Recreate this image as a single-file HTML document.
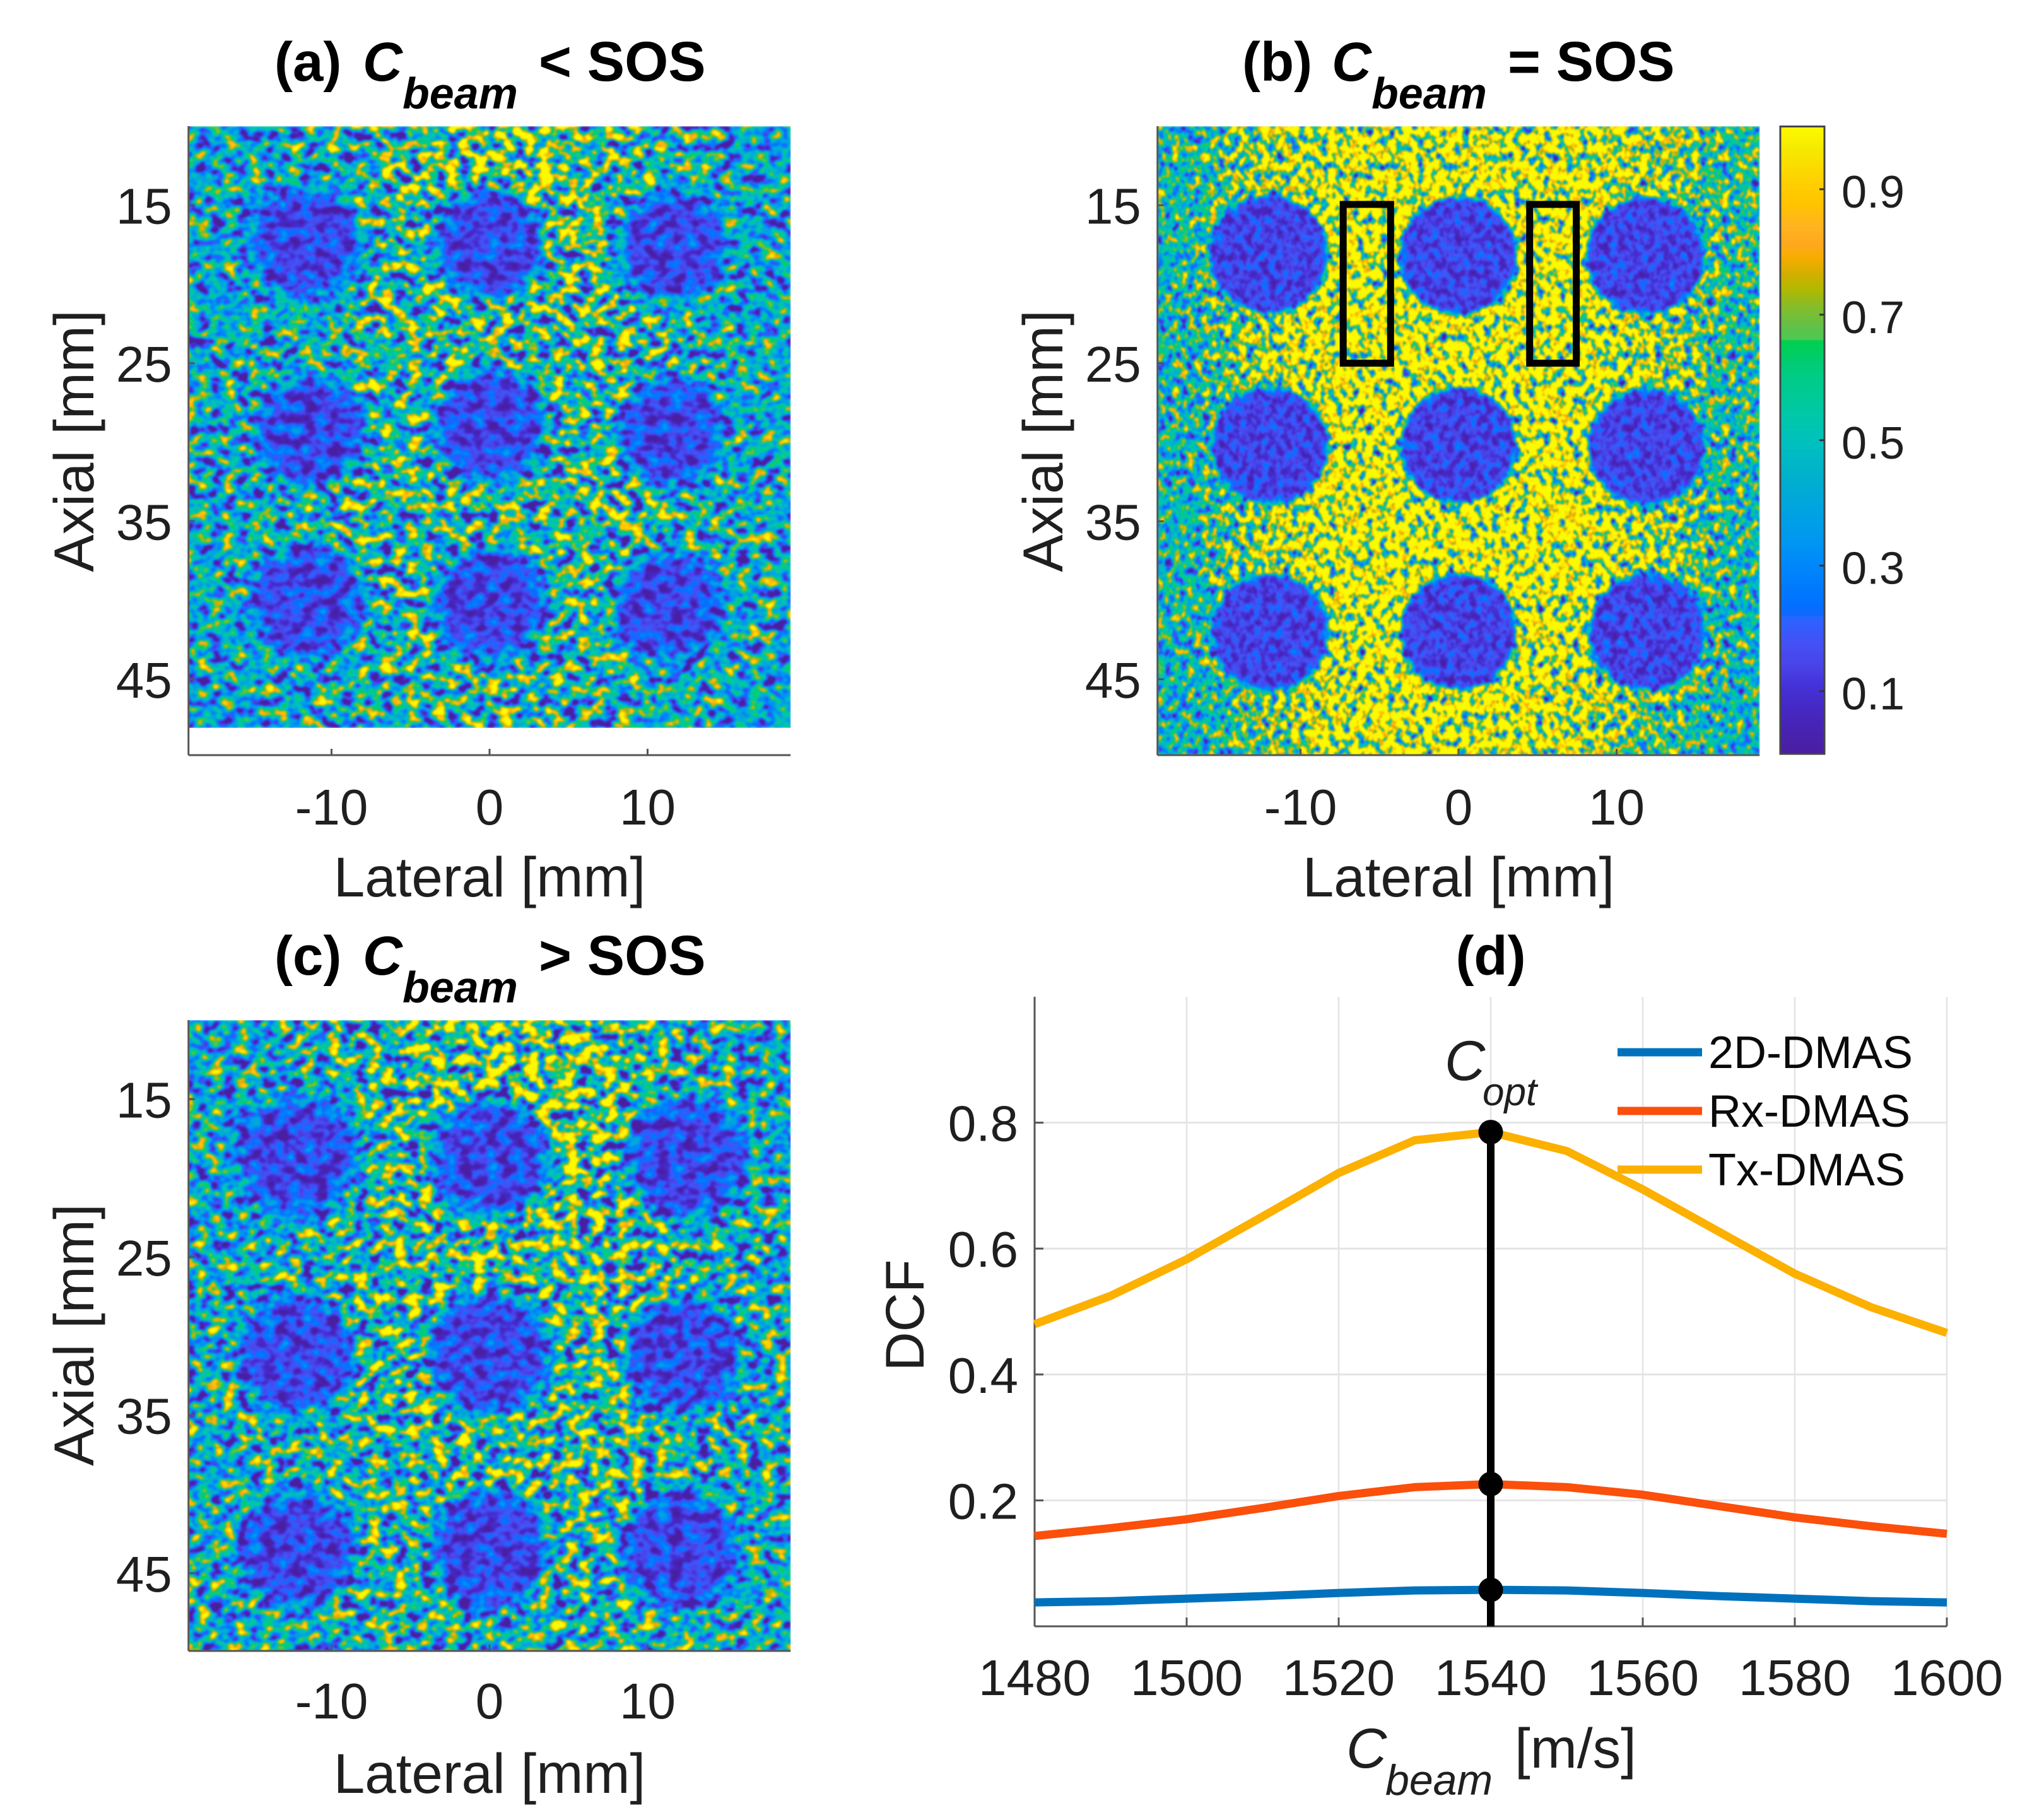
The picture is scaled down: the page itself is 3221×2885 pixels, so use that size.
<!DOCTYPE html>
<html lang="en">
<head>
<meta charset="utf-8">
<title>Beamforming speed of sound coherence maps</title>
<style>
html,body{margin:0;padding:0;background:#fff;}
svg{display:block;font-family:"Liberation Sans",sans-serif;}
.tick{font-size:80px;fill:#1f1f1f;}
.label{font-size:89px;fill:#1f1f1f;}
.title{font-size:87px;font-weight:bold;fill:#000;}
.title-end{font-size:89px;font-weight:bold;fill:#000;}
.sub{font-size:70px;font-weight:bold;font-style:italic;fill:#000;}
.legend{font-size:72px;fill:#0a0a0a;}
</style>
</head>
<body>
<svg id="figure" xmlns="http://www.w3.org/2000/svg" width="3221" height="2885" viewBox="0 0 3221 2885">
  <rect width="3221" height="2885" fill="#fff"/>
  <defs id="defs"></defs>
  <g id="panel-a"></g>
  <g id="panel-b"></g>
  <g id="panel-c"></g>
  <g id="colorbar"></g>
  <g id="panel-d"></g>

  <text><tspan class="title" x="435" y="128">(a)</tspan><tspan class="title" font-style="italic" x="575" y="128">C</tspan><tspan class="sub" x="638" y="172">beam</tspan><tspan class="title-end" x="854" y="128">&lt; SOS</tspan></text>
  <text><tspan class="title" x="1969" y="128">(b)</tspan><tspan class="title" font-style="italic" x="2111" y="128">C</tspan><tspan class="sub" x="2174" y="172">beam</tspan><tspan class="title-end" x="2390" y="128">= SOS</tspan></text>
  <text><tspan class="title" x="435" y="1545">(c)</tspan><tspan class="title" font-style="italic" x="575" y="1545">C</tspan><tspan class="sub" x="638" y="1589">beam</tspan><tspan class="title-end" x="854" y="1545">&gt; SOS</tspan></text>
  <text class="title" x="2363" y="1545" text-anchor="middle">(d)</text>

  <text class="label" x="776" y="1421" text-anchor="middle">Lateral [mm]</text>
  <text class="label" x="2312" y="1421" text-anchor="middle">Lateral [mm]</text>
  <text class="label" x="776" y="2842" text-anchor="middle">Lateral [mm]</text>
  <text class="label" transform="translate(148 699) rotate(-90)" text-anchor="middle">Axial [mm]</text>
  <text class="label" transform="translate(1684 699) rotate(-90)" text-anchor="middle">Axial [mm]</text>
  <text class="label" transform="translate(148 2116) rotate(-90)" text-anchor="middle">Axial [mm]</text>
  <text class="label" style="font-size:86px" transform="translate(1464 2085) rotate(-90)" text-anchor="middle">DCF</text>
  <text><tspan class="label" font-style="italic" x="2134" y="2802">C</tspan><tspan class="label" font-style="italic" style="font-size:68px" x="2196" y="2845">beam</tspan><tspan class="label" x="2401" y="2802">[m/s]</tspan></text>
  <text><tspan class="label" font-style="italic" x="2290" y="1712">C</tspan><tspan class="label" font-style="italic" style="font-size:62px" x="2350" y="1752">opt</tspan></text>
</svg>

<script>
// Colormap: value, then colour.
const cmapValues = [0,0.07,0.11,0.14,0.174,0.214,0.22,0.24,0.30,0.34,0.39,0.44,0.49,0.54,0.608,0.655,0.66,0.675,0.71,0.74,0.765,0.79,0.81,0.84,0.875,0.91,0.96,1];
const cmapColors = ['#4a1ea0','#4628c4','#4433d8','#4a44e8','#4450f5','#2a64ff','#1068ff','#0072ff','#0088fa','#0098f0','#00a4e0','#00b0cc','#00bfc0','#00c8a8','#00cc80','#00cf50','#4ec850','#5cc24c','#84bc2a','#b3b800','#d5ae00','#f7ad00','#ffa81e','#ffb420','#ffc400','#ffd000','#f5e800','#fdfb00'];
const colorbarTicks = [0.1,0.3,0.5,0.7,0.9];

// Axis tick labels.
const lateralTicks = [-10,0,10];
const axialTicks = [15,25,35,45];

// Mean coherence over the speckle, estimated on a coarse grid (rows top to bottom).
const fieldA = [
 [.50,.54,.62,.76,.88,.72,.58,.50],
 [.50,.54,.60,.72,.78,.72,.58,.50],
 [.52,.56,.64,.68,.68,.68,.60,.52],
 [.54,.58,.64,.66,.66,.66,.62,.54],
 [.54,.58,.64,.66,.66,.66,.62,.54],
 [.54,.58,.64,.64,.64,.66,.62,.54],
 [.54,.56,.62,.64,.64,.64,.60,.54],
 [.52,.54,.60,.62,.62,.60,.56,.52]];
const fieldB = [
 [.66,.94,1.10,1.12,1.12,1.10,1.00,.70],
 [.64,1.02,1.14,1.14,1.14,1.14,1.02,.70],
 [.62,1.02,1.14,1.14,1.14,1.14,1.02,.68],
 [.62,.98,1.14,1.16,1.16,1.14,.98,.66],
 [.60,.96,1.14,1.16,1.16,1.14,.98,.64],
 [.62,1.00,1.16,1.16,1.16,1.16,1.02,.66],
 [.60,.92,1.14,1.16,1.16,1.12,.92,.62],
 [.58,.84,1.12,1.16,1.14,1.04,.80,.60]];
const fieldC = [
 [.52,.56,.64,.78,.86,.76,.60,.52],
 [.52,.56,.62,.76,.80,.76,.60,.52],
 [.54,.56,.64,.70,.72,.70,.60,.54],
 [.56,.60,.66,.68,.70,.70,.62,.56],
 [.58,.60,.66,.68,.68,.68,.62,.56],
 [.56,.60,.64,.66,.68,.68,.62,.56],
 [.56,.58,.62,.64,.64,.64,.60,.56],
 [.56,.58,.60,.60,.60,.60,.58,.56]];

// Anechoic lesion centres and radii in mm.
const lesionsAX = [-11.55,0.05,11.5,-11.3,0.05,11.5,-11.5,0.05,11.3];
const lesionsAY = [17.3,17.4,17.6,29.3,28.9,29.3,40.1,40.2,40.4];
const lesionsAR = [3.5,3.6,3.5,3.5,3.6,3.4,3.6,3.6,3.5];
const lesionsBX = [-12.0,0,11.8,-11.9,0,11.9,-11.9,0,11.9];
const lesionsBY = [18.1,18.2,18.2,30.2,30.2,30.3,42.0,42.0,42.0];
const lesionsBR = [3.75,3.75,3.75,3.7,3.7,3.7,3.7,3.7,3.7];
const lesionsCX = [-12.2,0,12.4,-12.2,0,12.2,-12.2,0,12.1];
const lesionsCY = [18.6,18.7,18.7,31.1,31.1,31.2,43.5,43.5,43.5];
const lesionsCR = [3.8,3.8,3.8,3.7,3.9,3.7,3.7,3.8,3.7];
const lesionLevels = [0.185,0.175,0.185];

// Measurement boxes on panel (b), in mm.
const roiLeft = [-7.3,4.5];
const roiRight = [-4.3,7.45];
const roiTop = [14.95,14.95];
const roiBottom = [25,25];

// Panel (d) series.
const cBeam = [1480,1490,1500,1510,1520,1530,1540,1550,1560,1570,1580,1590,1600];
const dmas2d = [.038,.040,.044,.048,.053,.057,.058,.057,.053,.048,.044,.040,.038];
const rxDmas = [.1435,.156,.17,.188,.207,.221,.226,.221,.209,.191,.173,.159,.147];
const txDmas = [.48,.525,.583,.651,.72,.772,.785,.755,.694,.627,.56,.507,.466];
const cBeamTicks = [1480,1500,1520,1540,1560,1580,1600];
const dcfTicks = [0.2,0.4,0.6,0.8];
const optimalSpeed = 1540;

const NS = 'http://www.w3.org/2000/svg';
function make(tag, parent, attrs) {
  const el = document.createElementNS(NS, tag);
  for (const k in attrs) el.setAttribute(k, attrs[k]);
  parent.appendChild(el);
  return el;
}
const defs = document.getElementById('defs');

function hexToRgb(h) {
  return [parseInt(h.slice(1,3),16), parseInt(h.slice(3,5),16), parseInt(h.slice(5,7),16)];
}
function cmap(v) {
  const t = Math.max(0, Math.min(1, v));
  let i = 0;
  while (i < cmapValues.length - 2 && cmapValues[i + 1] < t) i++;
  const f = (t - cmapValues[i]) / (cmapValues[i + 1] - cmapValues[i]);
  const a = hexToRgb(cmapColors[i]);
  const b = hexToRgb(cmapColors[i + 1]);
  return [0, 1, 2].map(j => a[j] + (b[j] - a[j]) * f);
}
const tableSamples = [];
for (let i = 0; i <= 200; i++) tableSamples.push(cmap(i / 200));

function speckleFilter(id, freq, seed, gain, x, y, w, h) {
  const f = make('filter', defs, {id: id, filterUnits: 'userSpaceOnUse', x: x, y: y, width: w, height: h, 'color-interpolation-filters': 'sRGB'});
  make('feTurbulence', f, {type: 'fractalNoise', baseFrequency: freq, numOctaves: 2, seed: seed, result: 'n'});
  make('feColorMatrix', f, {in: 'n', type: 'matrix', values: '1 0 0 0 0 1 0 0 0 0 1 0 0 0 0 0 0 0 0 1', result: 'g'});
  make('feComposite', f, {in: 'SourceGraphic', in2: 'g', operator: 'arithmetic', k1: gain, k2: 1 - gain / 2, k3: 0, k4: 0, result: 'm'});
  const t = make('feComponentTransfer', f, {in: 'm', result: 'c'});
  ['R', 'G', 'B'].forEach((ch, j) => {
    make('feFunc' + ch, t, {type: 'table', tableValues: tableSamples.map(s => (s[j] / 255).toFixed(3)).join(' ')});
  });
  make('feGaussianBlur', f, {in: 'c', stdDeviation: 1.2});
}
const softField = make('filter', defs, {id: 'soft-field', x: '-20%', y: '-20%', width: '140%', height: '140%', 'color-interpolation-filters': 'sRGB'});
make('feGaussianBlur', softField, {stdDeviation: 45});
const softLesionWide = make('filter', defs, {id: 'soft-lesion-wide', x: '-30%', y: '-30%', width: '160%', height: '160%', 'color-interpolation-filters': 'sRGB'});
make('feGaussianBlur', softLesionWide, {stdDeviation: 13});
const softLesionTight = make('filter', defs, {id: 'soft-lesion-tight', x: '-30%', y: '-30%', width: '160%', height: '160%', 'color-interpolation-filters': 'sRGB'});
make('feGaussianBlur', softLesionTight, {stdDeviation: 4});

function gray(v) {
  const c = Math.round(Math.max(0, Math.min(1, v * 0.8)) * 255);
  return 'rgb(' + c + ',' + c + ',' + c + ')';
}

const PX_PER_MM = 25.05;
function heatPanel(cfg) {
  const g = document.getElementById(cfg.id);
  const xScale = mm => cfg.cx + mm * PX_PER_MM;
  const yScale = mm => cfg.top + (mm - 10) * PX_PER_MM;
  const left = xScale(-19.05), right = xScale(19.05);
  const axisBottom = cfg.top + cfg.axisHeight;
  const fid = 'speckle-' + cfg.id;
  speckleFilter(fid, cfg.freq, cfg.seed, cfg.gain, left, cfg.top, right - left, cfg.imageHeight);

  const image = make('g', g, {filter: 'url(#' + fid + ')'});
  
  
  const base = make('rect', image, {x: left, y: cfg.top, width: right - left, height: cfg.imageHeight, fill: gray(cfg.field[3][1])});
  
  

  const cells = make('g', image, {filter: 'url(#soft-field)'});
  const rows = cfg.field.length, cols = cfg.field[0].length;
  const gridTop = 10, gridBottom = 10 + cfg.imageHeight / PX_PER_MM;
  cfg.field.forEach((row, r) => {
    row.forEach((v, c) => {
      const x0 = -19.05 + 38.1 * c / cols, x1 = -19.05 + 38.1 * (c + 1) / cols;
      const y0 = gridTop + (gridBottom - gridTop) * r / rows, y1 = gridTop + (gridBottom - gridTop) * (r + 1) / rows;
      const extL = c === 0 ? 120 : 0, extR = c === cols - 1 ? 120 : 0, extT = r === 0 ? 120 : 0, extB = r === rows - 1 ? 120 : 0;
      const cell = make('rect', cells, {x: xScale(x0) - extL, y: yScale(y0) - extT, width: xScale(x1) - xScale(x0) + extL + extR + 1, height: yScale(y1) - yScale(y0) + extT + extB + 1, fill: gray(v)});
      
      
    });
  });

  const lesions = make('g', image, {filter: 'url(#' + cfg.lesionBlur + ')'});
  cfg.lesionX.forEach((lx, i) => {
    const circle = make('circle', lesions, {cx: xScale(lx), cy: yScale(cfg.lesionY[i]), r: cfg.lesionR[i] * PX_PER_MM, fill: gray(cfg.level)});
    
    
  });

  const axisX = make('line', g, {x1: left, x2: right, y1: axisBottom, y2: axisBottom, stroke: '#555', 'stroke-width': 3});
  
  
  const axisY = make('line', g, {x1: left, x2: left, y1: cfg.top, y2: axisBottom, stroke: '#555', 'stroke-width': 3});
  
  

  lateralTicks.forEach(t => {
    const tk = make('line', g, {x1: xScale(t), x2: xScale(t), y1: axisBottom, y2: axisBottom - 10, stroke: '#555', 'stroke-width': 3});
    
    
    const lb = make('text', g, {class: 'tick', x: xScale(t), y: cfg.top + 1107, 'text-anchor': 'middle'});
    
    
    lb.textContent = String(t);
  });
  axialTicks.forEach(t => {
    const tk = make('line', g, {x1: left, x2: left + 10, y1: yScale(t), y2: yScale(t), stroke: '#555', 'stroke-width': 3});
    
    
    const lb = make('text', g, {class: 'tick', x: left - 26, y: yScale(t) + 29, 'text-anchor': 'end'});
    
    
    lb.textContent = String(t);
  });
  return {xScale, yScale};
}

heatPanel({id: 'panel-a', cx: 776, top: 200, axisHeight: 997, imageHeight: 954, freq: '0.048 0.058', seed: 7, gain: 4.5, field: fieldA, lesionX: lesionsAX, lesionY: lesionsAY, lesionR: lesionsAR, level: lesionLevels[0], lesionBlur: 'soft-lesion-wide'});
const panelB = heatPanel({id: 'panel-b', cx: 2312, top: 200, axisHeight: 997, imageHeight: 997, freq: '0.085 0.07', seed: 21, gain: 3.3, field: fieldB, lesionX: lesionsBX, lesionY: lesionsBY, lesionR: lesionsBR, level: lesionLevels[1], lesionBlur: 'soft-lesion-tight'});
heatPanel({id: 'panel-c', cx: 776, top: 1617, axisHeight: 1000, imageHeight: 1000, freq: '0.048 0.058', seed: 42, gain: 4.5, field: fieldC, lesionX: lesionsCX, lesionY: lesionsCY, lesionR: lesionsCR, level: lesionLevels[2], lesionBlur: 'soft-lesion-wide'});

// Measurement boxes on panel (b).
const pb = document.getElementById('panel-b');
roiLeft.forEach((l, i) => {
  const roi = make('rect', pb, {x: panelB.xScale(l), y: panelB.yScale(roiTop[i]), width: panelB.xScale(roiRight[i]) - panelB.xScale(l), height: panelB.yScale(roiBottom[i]) - panelB.yScale(roiTop[i]), fill: 'none', stroke: '#000', 'stroke-width': 11});
  
  
});

// Colorbar.
const cb = document.getElementById('colorbar');
const cbLeft = 2822, cbRight = 2892, cbTop = 200.5, cbBottom = 1195;
const cbY = v => cbBottom - v * (cbBottom - cbTop);
for (let i = 0; i < 200; i++) {
  const col = tableSamples[i];
  const seg = make('rect', cb, {x: cbLeft, y: cbY((i + 1) / 200), width: cbRight - cbLeft, height: (cbBottom - cbTop) / 200 + 0.6, fill: 'rgb(' + col.map(Math.round).join(',') + ')'});
  
  
}
const cbFrame = make('rect', cb, {x: cbLeft, y: cbTop, width: cbRight - cbLeft, height: cbBottom - cbTop, fill: 'none', stroke: '#444', 'stroke-width': 3});


colorbarTicks.forEach(t => {
  const tk = make('line', cb, {x1: cbRight - 8, x2: cbRight, y1: cbY(t), y2: cbY(t), stroke: '#333', 'stroke-width': 3});
  
  
  const lb = make('text', cb, {class: 'tick', x: 2919, y: cbY(t) + 29, style: 'font-size:72px'});
  
  
  lb.textContent = t.toFixed(1);
});

// Panel (d).
const pd = document.getElementById('panel-d');
const dLeft = 1640, dRight = 3086, dTop = 1580, dBottom = 2578;
const xD = v => dLeft + (v - cBeam[0]) / (cBeam[cBeam.length - 1] - cBeam[0]) * (dRight - dLeft);
const yD = v => dBottom - v * (dBottom - dTop);

cBeamTicks.forEach(t => {
  const gl = make('line', pd, {x1: xD(t), x2: xD(t), y1: dTop, y2: dBottom, stroke: '#e4e4e4', 'stroke-width': 2.5});
  
  
  const tk = make('line', pd, {x1: xD(t), x2: xD(t), y1: dBottom, y2: dBottom - 14, stroke: '#555', 'stroke-width': 3});
  
  
  const lb = make('text', pd, {class: 'tick', x: xD(t), y: 2687, 'text-anchor': 'middle'});
  
  
  lb.textContent = String(t);
});
dcfTicks.forEach(t => {
  const gl = make('line', pd, {x1: dLeft, x2: dRight, y1: yD(t), y2: yD(t), stroke: '#e4e4e4', 'stroke-width': 3});
  
  
  const tk = make('line', pd, {x1: dLeft, x2: dLeft + 14, y1: yD(t), y2: yD(t), stroke: '#555', 'stroke-width': 3});
  
  
  const lb = make('text', pd, {class: 'tick', x: dLeft - 26, y: yD(t) + 29, 'text-anchor': 'end'});
  
  
  lb.textContent = t.toFixed(1);
});
const dAxisX = make('line', pd, {x1: dLeft, x2: dRight, y1: dBottom, y2: dBottom, stroke: '#555', 'stroke-width': 3});


const dAxisY = make('line', pd, {x1: dLeft, x2: dLeft, y1: dTop, y2: dBottom, stroke: '#555', 'stroke-width': 3});



const linePoints = arr => arr.map((v, i) => xD(cBeam[i]).toFixed(1) + ',' + yD(v).toFixed(1)).join(' ');
const line2d = make('polyline', pd, {points: linePoints(dmas2d), fill: 'none', stroke: '#0072bd', 'stroke-width': 13, 'stroke-linejoin': 'round'});


const lineRx = make('polyline', pd, {points: linePoints(rxDmas), fill: 'none', stroke: '#fb4f0c', 'stroke-width': 13, 'stroke-linejoin': 'round'});


const lineTx = make('polyline', pd, {points: linePoints(txDmas), fill: 'none', stroke: '#fcb000', 'stroke-width': 13, 'stroke-linejoin': 'round'});



const optIndex = cBeam.indexOf(optimalSpeed);
const optLine = make('line', pd, {x1: xD(optimalSpeed), x2: xD(optimalSpeed), y1: yD(txDmas[optIndex]), y2: dBottom, stroke: '#000', 'stroke-width': 12});


[dmas2d, rxDmas, txDmas].forEach(series => {
  const dot = make('circle', pd, {cx: xD(optimalSpeed), cy: yD(series[optIndex]), r: 19.5, fill: '#000'});
  
  
});

const legendNames = ['2D-DMAS', 'Rx-DMAS', 'Tx-DMAS'];
const legendColors = ['#0072bd', '#fb4f0c', '#fcb000'];
legendNames.forEach((name, i) => {
  const ly = 1668 + i * 93;
  const sw = make('line', pd, {x1: 2564, x2: 2698, y1: ly, y2: ly, stroke: legendColors[i], 'stroke-width': 13});
  
  
  const lb = make('text', pd, {class: 'legend', x: 2708, y: ly + 25});
  
  
  lb.textContent = name;
});
</script>
</body>
</html>
